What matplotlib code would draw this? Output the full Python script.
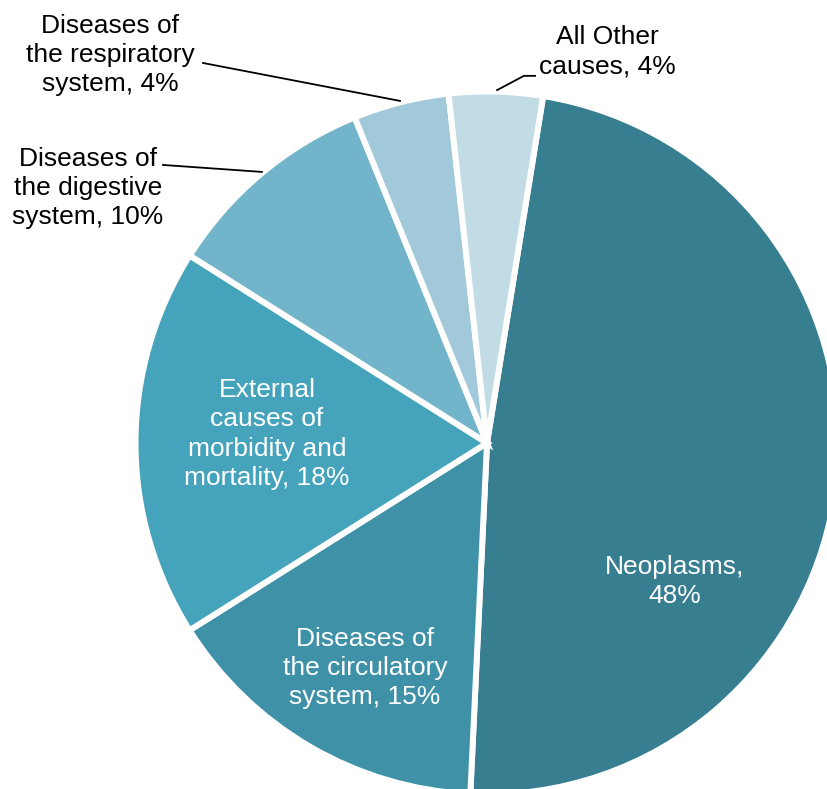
import matplotlib
matplotlib.use("Agg")
import matplotlib.pyplot as plt

plt.rcParams['font.family'] = ['Liberation Sans', 'DejaVu Sans']

categories = ["Neoplasms", "Diseases of the circulatory system",
              "External causes of morbidity and mortality",
              "Diseases of the digestive system",
              "Diseases of the respiratory system", "All Other causes"]
values = [48.2, 15.3, 17.9, 9.9, 4.4, 4.3]
label_texts = ["Neoplasms,\n{}%", "Diseases of\nthe circulatory\nsystem, {}%",
               "External\ncauses of\nmorbidity and\nmortality, {}%",
               "Diseases of\nthe digestive\nsystem, {}%",
               "Diseases of\nthe respiratory\nsystem, {}%",
               "All Other\ncauses, {}%"]
colors = ["#367E90", "#3F91A8", "#46A3BC", "#72B5CB", "#A2C9D9", "#C1DCE5"]

# label placement (styling)
label_pos = [(0.540, -0.397), (-0.351, -0.647), (-0.632, 0.026),
             (-1.147, 0.733), (-1.083, 1.115), (0.345, 1.124)]
label_color = ["white", "white", "white", "black", "black", "black"]
leaders = [None, None, None,
           [(-0.931, 0.799), (-0.647, 0.779)],
           [(-0.816, 1.092), (-0.250, 0.983)],
           [(0.138, 1.055), (0.106, 1.055), (0.029, 1.014)]]

W, H = 828, 789
fig = plt.figure(figsize=(W / 100, H / 100), dpi=100)
cx, cy, R = 487, 443, 348
ax = fig.add_axes([(cx - R) / W, (H - cy - R) / H, 2 * R / W, 2 * R / H])
ax.axis("off")

start = 90 - 9.2
ax.pie(values, colors=colors, startangle=start, counterclock=False, radius=1.01,
       wedgeprops=dict(edgecolor="white", linewidth=4.3), frame=False)
ax.set_xlim(-1, 1)
ax.set_ylim(-1, 1)
ax.set_aspect("auto")

for t, v, pos, c, ld in zip(label_texts, values, label_pos, label_color, leaders):
    ax.text(pos[0], pos[1], t.format(round(v)), ha="center", va="center",
            color=c, fontsize=19, linespacing=1.27, clip_on=False)
    if ld:
        xs = [p[0] for p in ld]
        ys = [p[1] for p in ld]
        ax.plot(xs, ys, color="black", lw=1.3, clip_on=False)

fig.savefig("out.png", dpi=100)
